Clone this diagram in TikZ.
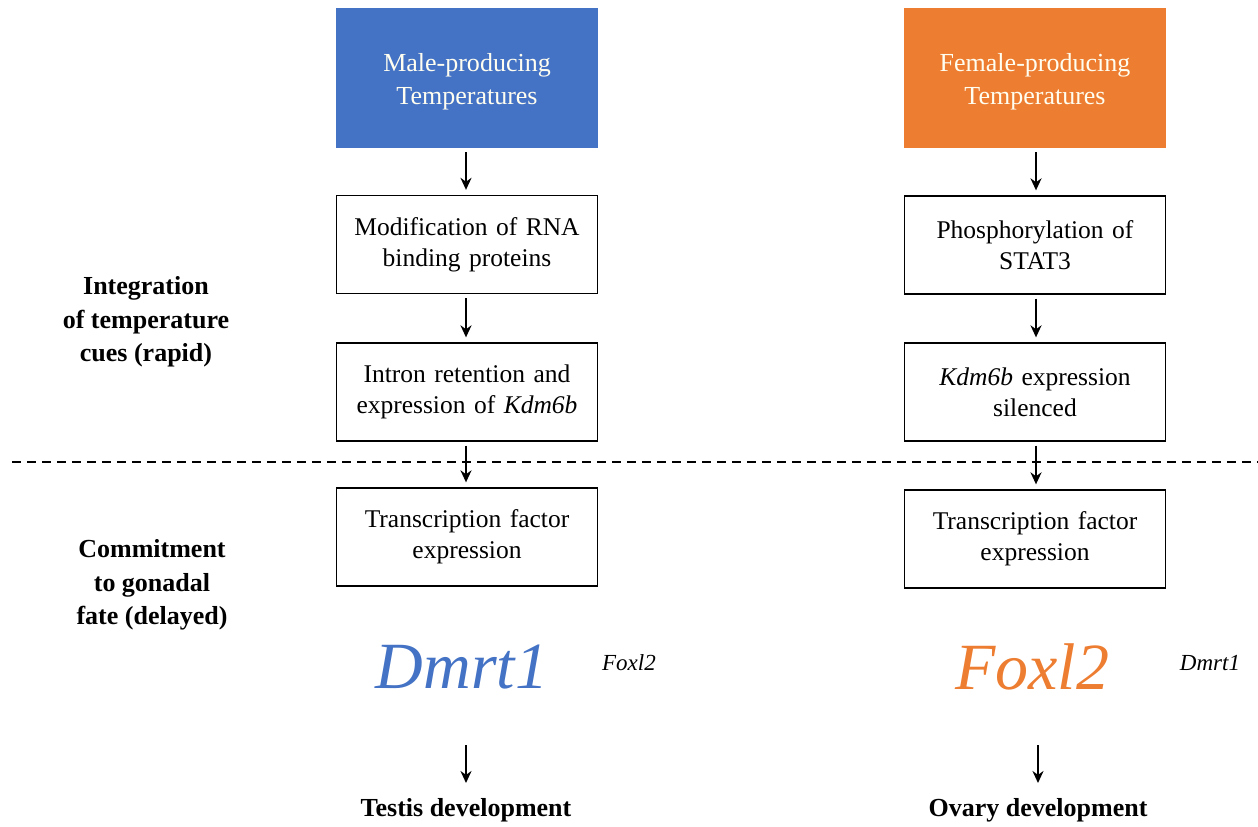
\documentclass[tikz,border=0pt]{standalone}
\usepackage{fontspec}
\setmainfont{Liberation Serif}
\usetikzlibrary{arrows.meta}
\definecolor{mblue}{HTML}{4472C4}
\definecolor{forange}{HTML}{ED7D31}
\begin{document}
\begin{tikzpicture}[x=1pt,y=-1pt,
  txt/.style={font=\fontsize{25.5}{31}\selectfont, align=center},
  stepbox/.style={draw=black, line width=1.3pt, minimum width=259pt, minimum height=98pt, txt, text width=255pt},
  topbox/.style={minimum width=260pt, minimum height=140pt, font=\fontsize{26}{33}\selectfont, align=center, text width=255pt, text=white!94!yellow},
  toptext/.style={font=\fontsize{26}{33}\selectfont, align=center, text=white!94!yellow},
  arr/.style={-{Stealth[length=12pt,width=11pt]}, line width=2.8pt},
  side/.style={font=\fontsize{26}{33.5}\selectfont\bfseries, align=center},
  big/.style={font=\fontsize{66}{70}\selectfont\itshape},
  small/.style={font=\fontsize{23}{26}\selectfont\itshape}]
\useasboundingbox (0,0) rectangle (1258,827);
% left column
\node[topbox, fill=mblue] (m0) at (467,78) {};
\node[toptext] (m0t) at (467,82) {Male-producing\\Temperatures};
\node[stepbox] (m1) at (467,244.5) {Modification of RNA\\binding proteins};
\node[stepbox] (m2) at (467,392) {Intron retention and\\expression of \textit{Kdm6b}};
\node[stepbox] (m3) at (467,537) {Transcription factor\\expression};
\node[big, text=mblue] (m4) at (462,667) {Dmrt1};
\node[small] (m5) at (629,663) {Foxl2};
\node[side] (m6) at (466,810) {Testis development};
% right column
\node[topbox, fill=forange] (f0) at (1035,78) {};
\node[toptext] (f0t) at (1035,82) {Female-producing\\Temperatures};
\node[stepbox] (f1) at (1035,245) {Phosphorylation of\\STAT3};
\node[stepbox] (f2) at (1035,392) {\textit{Kdm6b} expression\\silenced};
\node[stepbox] (f3) at (1035,539) {Transcription factor\\expression};
\node[big, text=forange] (f4) at (1032,667) {Foxl2};
\node[small] (f5) at (1210,663) {Dmrt1};
\node[side] (f6) at (1038,810) {Ovary development};
% side labels
\node[side] (s1) at (146,322) {Integration\\of temperature\\cues (rapid)};
\node[side] (s2) at (152,585) {Commitment\\to gonadal\\fate (delayed)};
% dashed divider
\coordinate (dl) at (12,462);
\coordinate (dr) at (1258,462);
\draw[line width=1.8pt, dash pattern=on 9pt off 6pt] (dl) -- (dr);
% arrows
\coordinate (ma) at (466,745); \coordinate (mb) at (466,783);
\coordinate (fa) at (1038,745); \coordinate (fb) at (1038,783);
\draw[arr] ([yshift=-4pt]m0.south -| 466,0) -- ([yshift=5pt]m1.north -| 466,0);
\draw[arr] ([yshift=-4pt]m1.south -| 466,0) -- ([yshift=5pt]m2.north -| 466,0);
\draw[arr] ([yshift=-4pt]m2.south -| 466,0) -- ([yshift=5pt]m3.north -| 466,0);
\draw[arr] (ma) -- (mb);
\draw[arr] ([yshift=-4pt]f0.south -| 1036,0) -- ([yshift=5pt]f1.north -| 1036,0);
\draw[arr] ([yshift=-4pt]f1.south -| 1036,0) -- ([yshift=5pt]f2.north -| 1036,0);
\draw[arr] ([yshift=-4pt]f2.south -| 1036,0) -- ([yshift=5pt]f3.north -| 1036,0);
\draw[arr] (fa) -- (fb);
\end{tikzpicture}
\end{document}
